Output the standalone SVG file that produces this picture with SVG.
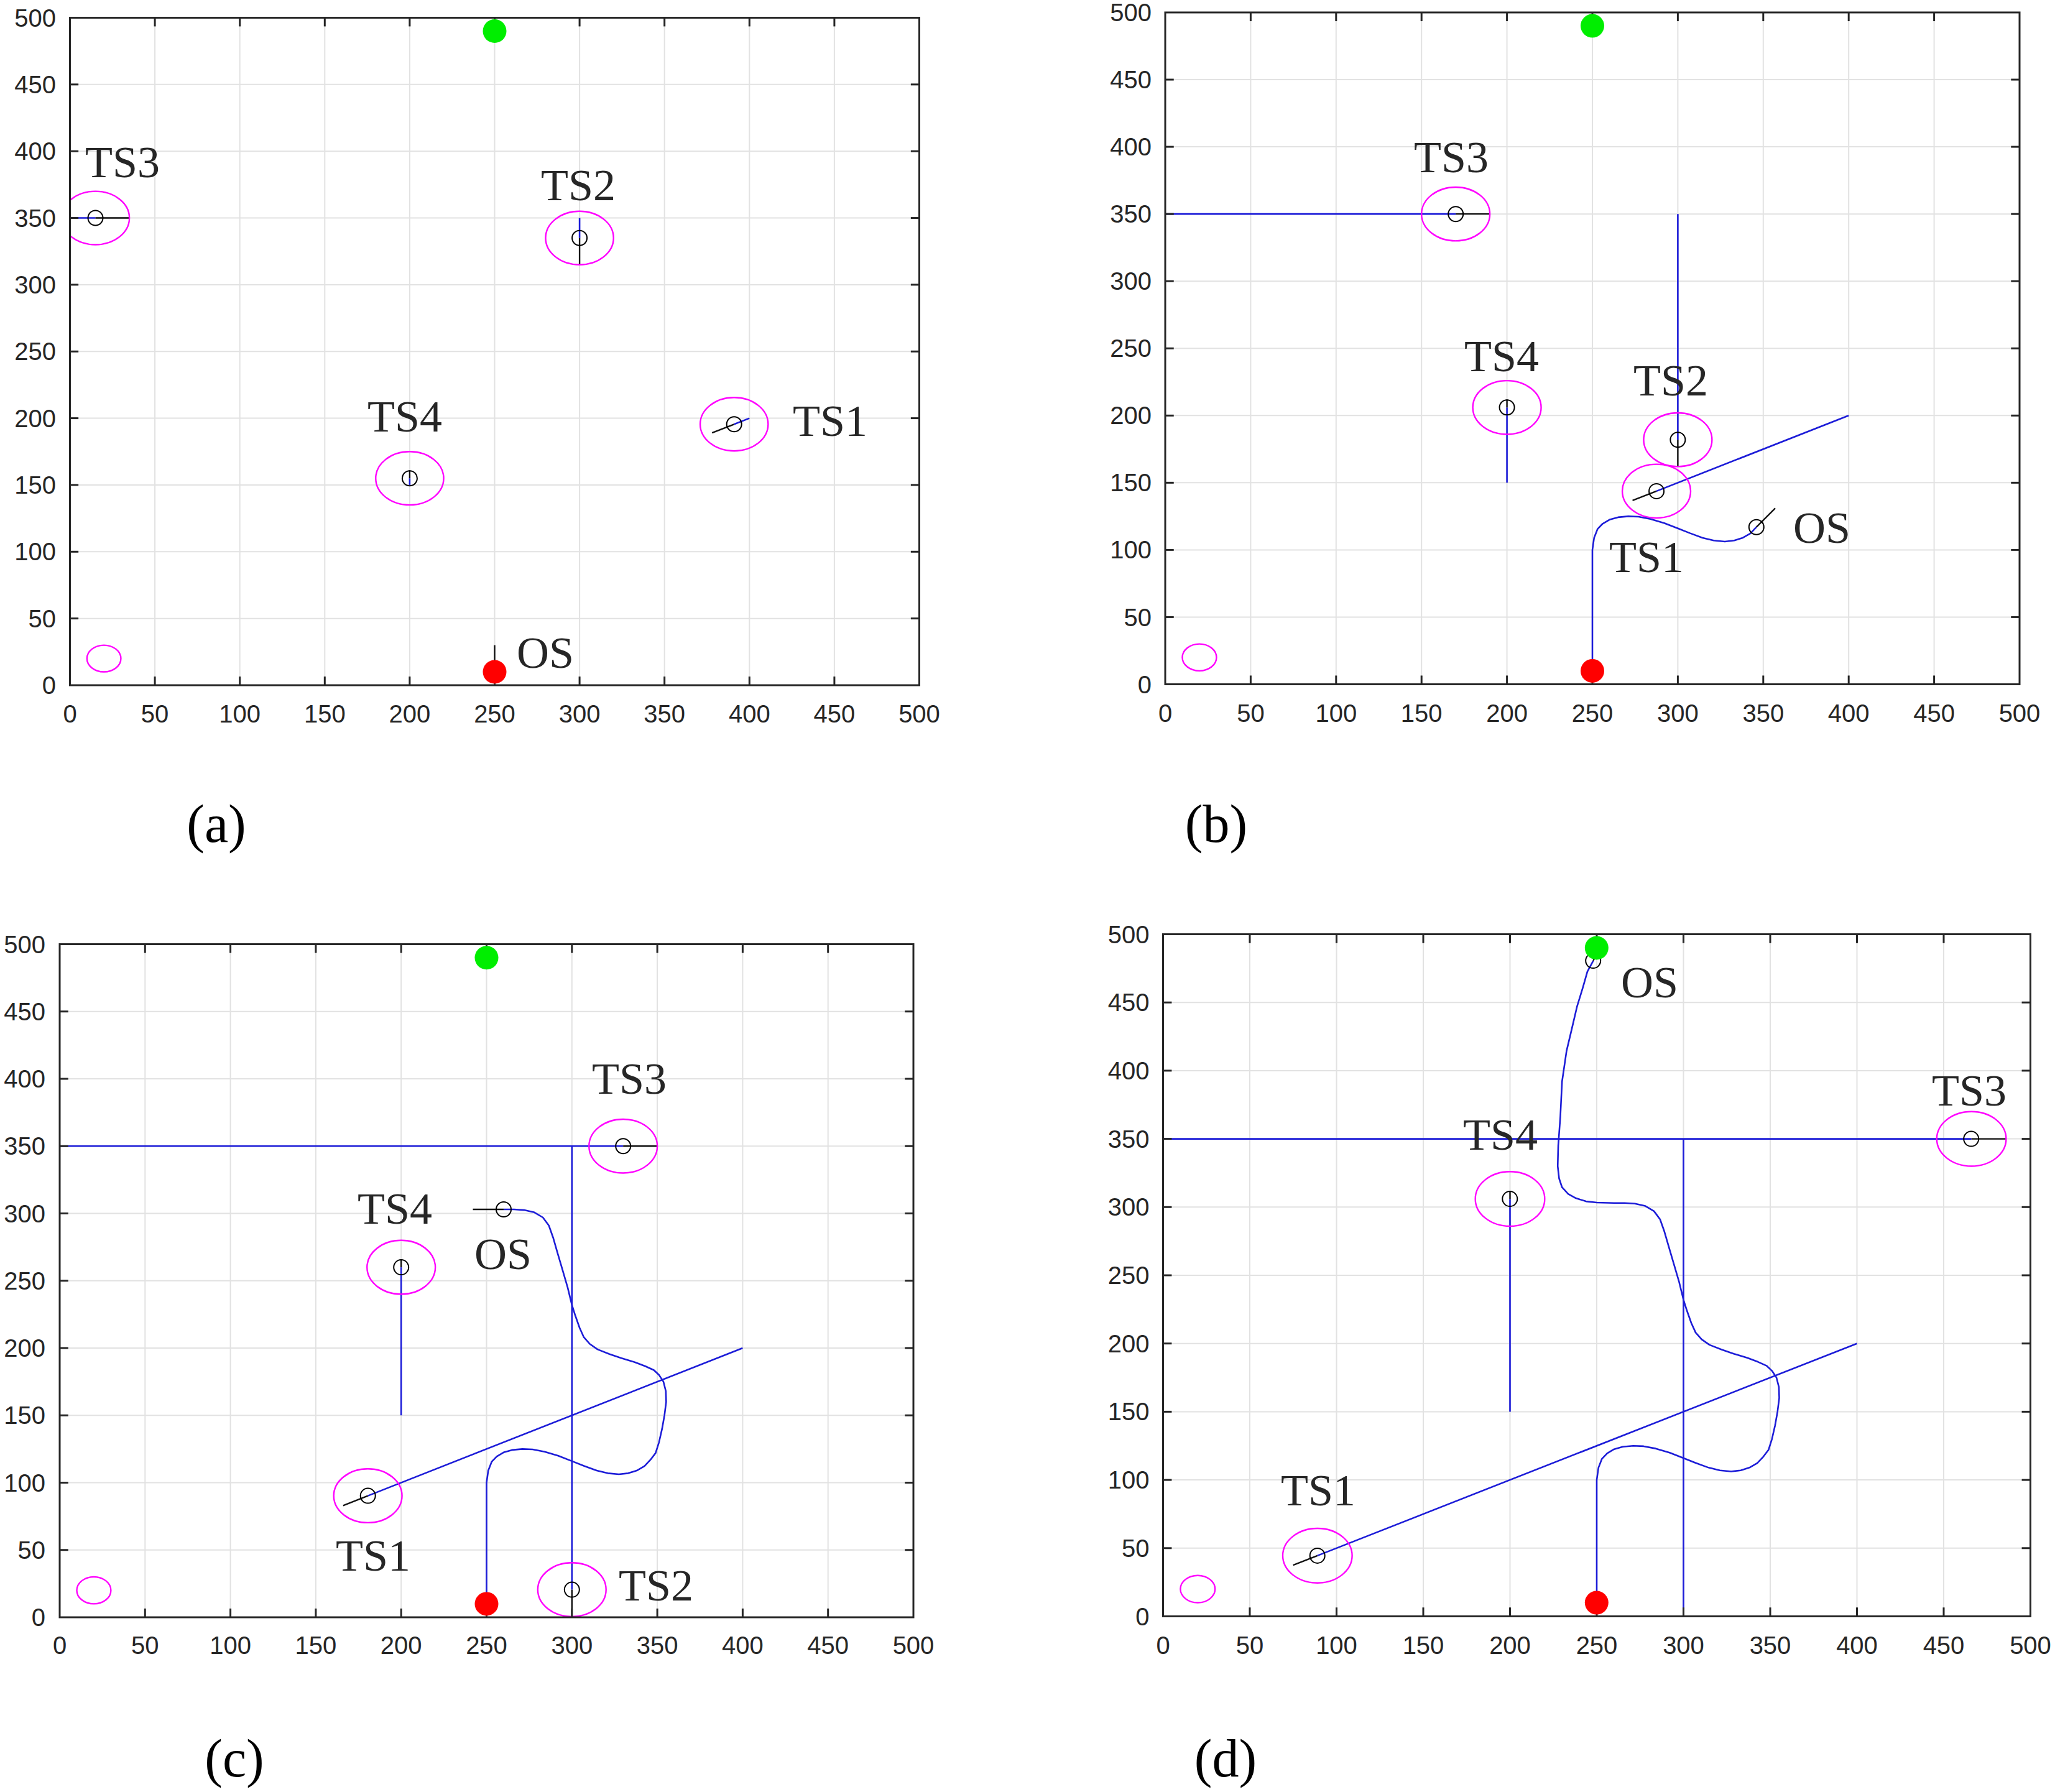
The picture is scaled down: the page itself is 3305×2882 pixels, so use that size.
<svg xmlns="http://www.w3.org/2000/svg" xmlns:xlink="http://www.w3.org/1999/xlink" width="3305" height="2882" viewBox="0 0 3305 2882">
<style>
.bg{fill:#ffffff}
.grid line{stroke:#e2e2e2;stroke-width:2;vector-effect:non-scaling-stroke}
.box{fill:none;stroke:#262626;stroke-width:3;vector-effect:non-scaling-stroke}
.tick line{stroke:#262626;stroke-width:3;vector-effect:non-scaling-stroke}
.traj{fill:none;stroke:#1c1cd8;stroke-width:2.6;stroke-linejoin:round;vector-effect:non-scaling-stroke}
.vec{fill:none;stroke:#111111;stroke-width:2.4;vector-effect:non-scaling-stroke}
.zone{fill:none;stroke:#ff00ff;stroke-width:2.4;vector-effect:non-scaling-stroke}
.mk{fill:none;stroke:#000000;stroke-width:2}
.start{fill:#ff0000}
.goal{fill:#00ee00}
.tx{font-family:"Liberation Sans",Arial,sans-serif;font-size:40px;fill:#262626;text-anchor:middle}
.ty{font-family:"Liberation Sans",Arial,sans-serif;font-size:40px;fill:#262626;text-anchor:end}
.lbl{font-family:"Liberation Serif","Times New Roman",serif;font-size:72px;fill:#262626;text-anchor:middle}
.cap{font-family:"Liberation Serif","Times New Roman",serif;font-size:86px;fill:#000000;text-anchor:middle}
</style>
<defs>
<clipPath id="clipData"><rect x="0" y="0" width="500" height="500"/></clipPath>
<g id="grid" class="grid">
<line x1="50" y1="0" x2="50" y2="500"/><line x1="100" y1="0" x2="100" y2="500"/><line x1="150" y1="0" x2="150" y2="500"/><line x1="200" y1="0" x2="200" y2="500"/><line x1="250" y1="0" x2="250" y2="500"/><line x1="300" y1="0" x2="300" y2="500"/><line x1="350" y1="0" x2="350" y2="500"/><line x1="400" y1="0" x2="400" y2="500"/><line x1="450" y1="0" x2="450" y2="500"/>
<line x1="0" y1="50" x2="500" y2="50"/><line x1="0" y1="100" x2="500" y2="100"/><line x1="0" y1="150" x2="500" y2="150"/><line x1="0" y1="200" x2="500" y2="200"/><line x1="0" y1="250" x2="500" y2="250"/><line x1="0" y1="300" x2="500" y2="300"/><line x1="0" y1="350" x2="500" y2="350"/><line x1="0" y1="400" x2="500" y2="400"/><line x1="0" y1="450" x2="500" y2="450"/>
</g>
<g id="frame">
<g class="tick">
<line x1="50" y1="0" x2="50" y2="6.5"/><line x1="100" y1="0" x2="100" y2="6.5"/><line x1="150" y1="0" x2="150" y2="6.5"/><line x1="200" y1="0" x2="200" y2="6.5"/><line x1="250" y1="0" x2="250" y2="6.5"/><line x1="300" y1="0" x2="300" y2="6.5"/><line x1="350" y1="0" x2="350" y2="6.5"/><line x1="400" y1="0" x2="400" y2="6.5"/><line x1="450" y1="0" x2="450" y2="6.5"/>
<line x1="50" y1="500" x2="50" y2="493.5"/><line x1="100" y1="500" x2="100" y2="493.5"/><line x1="150" y1="500" x2="150" y2="493.5"/><line x1="200" y1="500" x2="200" y2="493.5"/><line x1="250" y1="500" x2="250" y2="493.5"/><line x1="300" y1="500" x2="300" y2="493.5"/><line x1="350" y1="500" x2="350" y2="493.5"/><line x1="400" y1="500" x2="400" y2="493.5"/><line x1="450" y1="500" x2="450" y2="493.5"/>
<line x1="0" y1="50" x2="5" y2="50"/><line x1="0" y1="100" x2="5" y2="100"/><line x1="0" y1="150" x2="5" y2="150"/><line x1="0" y1="200" x2="5" y2="200"/><line x1="0" y1="250" x2="5" y2="250"/><line x1="0" y1="300" x2="5" y2="300"/><line x1="0" y1="350" x2="5" y2="350"/><line x1="0" y1="400" x2="5" y2="400"/><line x1="0" y1="450" x2="5" y2="450"/>
<line x1="500" y1="50" x2="495" y2="50"/><line x1="500" y1="100" x2="495" y2="100"/><line x1="500" y1="150" x2="495" y2="150"/><line x1="500" y1="200" x2="495" y2="200"/><line x1="500" y1="250" x2="495" y2="250"/><line x1="500" y1="300" x2="495" y2="300"/><line x1="500" y1="350" x2="495" y2="350"/><line x1="500" y1="400" x2="495" y2="400"/><line x1="500" y1="450" x2="495" y2="450"/>
</g>
<rect class="box" x="0" y="0" width="500" height="500"/>
</g>
</defs>
<rect class="bg" x="0" y="0" width="3305" height="2882"/>

<!-- Panel (a) -->
<g id="panel-a">
<g transform="matrix(2.732 0 0 -2.147 112.5 1102)">
<use xlink:href="#grid" href="#grid"/>
<g id="a-data" clip-path="url(#clipData)">
<circle class="zone" cx="20" cy="20" r="10"/>
<line class="traj" x1="0" y1="350" x2="15" y2="350"/>
<line class="vec" x1="15" y1="350" x2="35" y2="350"/>
<circle class="zone" cx="15" cy="350" r="20"/>
<line class="traj" x1="300" y1="350" x2="300" y2="335"/>
<line class="vec" x1="300" y1="335" x2="300" y2="315"/>
<circle class="zone" cx="300" cy="335" r="20"/>
<line class="traj" x1="400" y1="200" x2="391" y2="195.5"/>
<line class="vec" x1="391" y1="195.5" x2="378" y2="189"/>
<circle class="zone" cx="391" cy="195.5" r="20"/>
<line class="traj" x1="200" y1="150" x2="200" y2="155"/>
<line class="vec" x1="200" y1="155" x2="200" y2="161"/>
<circle class="zone" cx="200" cy="155" r="20"/>
<line class="vec" x1="250" y1="10" x2="250" y2="30"/>
</g>
<use xlink:href="#frame" href="#frame"/>
</g>
<circle class="mk" cx="153.5" cy="350.5" r="12"/>
<circle class="mk" cx="932.1" cy="382.8" r="12"/>
<circle class="mk" cx="1180.7" cy="682.3" r="12"/>
<circle class="mk" cx="658.9" cy="769.2" r="12"/>
<circle class="start" cx="795.5" cy="1080.5" r="19"/>
<circle class="goal" cx="795.5" cy="50" r="19"/>
<text class="lbl" x="197" y="285">TS3</text>
<text class="lbl" x="930" y="322">TS2</text>
<text class="lbl" x="651" y="694">TS4</text>
<text class="lbl" x="1335" y="701">TS1</text>
<text class="lbl" x="877" y="1074">OS</text>
<g id="a-xticks">
<text class="tx" x="112.5" y="1162">0</text><text class="tx" x="249.1" y="1162">50</text><text class="tx" x="385.7" y="1162">100</text><text class="tx" x="522.3" y="1162">150</text><text class="tx" x="658.9" y="1162">200</text><text class="tx" x="795.5" y="1162">250</text><text class="tx" x="932.1" y="1162">300</text><text class="tx" x="1068.7" y="1162">350</text><text class="tx" x="1205.3" y="1162">400</text><text class="tx" x="1341.9" y="1162">450</text><text class="tx" x="1478.5" y="1162">500</text>
</g>
<g id="a-yticks">
<text class="ty" x="90" y="1116">0</text><text class="ty" x="90" y="1008.7">50</text><text class="ty" x="90" y="901.3">100</text><text class="ty" x="90" y="794">150</text><text class="ty" x="90" y="686.6">200</text><text class="ty" x="90" y="579.3">250</text><text class="ty" x="90" y="471.9">300</text><text class="ty" x="90" y="364.6">350</text><text class="ty" x="90" y="257.2">400</text><text class="ty" x="90" y="149.9">450</text><text class="ty" x="90" y="42.5">500</text>
</g>
<text class="cap" x="348" y="1354">(a)</text>
</g>

<!-- Panel (b) -->
<g id="panel-b">
<g transform="matrix(2.748 0 0 -2.161 1874 1100.5)">
<use xlink:href="#grid" href="#grid"/>
<g id="b-data" clip-path="url(#clipData)">
<circle class="zone" cx="20" cy="20" r="10"/>
<line class="traj" x1="0" y1="350" x2="170" y2="350"/>
<line class="vec" x1="170" y1="350" x2="190" y2="350"/>
<circle class="zone" cx="170" cy="350" r="20"/>
<line class="traj" x1="300" y1="350" x2="300" y2="182"/>
<line class="vec" x1="300" y1="182" x2="300" y2="162"/>
<circle class="zone" cx="300" cy="182" r="20"/>
<line class="traj" x1="200" y1="150" x2="200" y2="206"/>
<line class="vec" x1="200" y1="206" x2="200" y2="212"/>
<circle class="zone" cx="200" cy="206" r="20"/>
<line class="traj" x1="400" y1="200" x2="287.5" y2="143.75"/>
<line class="vec" x1="287.5" y1="143.75" x2="273.5" y2="136.75"/>
<circle class="zone" cx="287.5" cy="143.75" r="20"/>
<polyline class="traj" points="250,10 250,100 251,109 253,115.5 256,119.5 260,122.5 265,124.3 271,125 277,124.7 284,123 292,120 300,116 307,112.5 314.5,109 321,107 327.5,106.2 333,107 338,109 342.5,112.3 346,117"/>
<line class="vec" x1="346" y1="117" x2="357" y2="131"/>
</g>
<use xlink:href="#frame" href="#frame"/>
</g>
<circle class="mk" cx="2341.2" cy="344.2" r="12"/>
<circle class="mk" cx="2698.4" cy="707.2" r="12"/>
<circle class="mk" cx="2423.6" cy="655.3" r="12"/>
<circle class="mk" cx="2664.1" cy="789.9" r="12"/>
<circle class="mk" cx="2824.8" cy="847.7" r="12"/>
<circle class="start" cx="2561" cy="1078.9" r="19"/>
<circle class="goal" cx="2561" cy="41.6" r="19"/>
<text class="lbl" x="2334" y="277">TS3</text>
<text class="lbl" x="2415" y="597">TS4</text>
<text class="lbl" x="2687" y="636">TS2</text>
<text class="lbl" x="2648" y="920">TS1</text>
<text class="lbl" x="2930" y="873">OS</text>
<g id="b-xticks">
<text class="tx" x="1874" y="1160.5">0</text><text class="tx" x="2011.4" y="1160.5">50</text><text class="tx" x="2148.8" y="1160.5">100</text><text class="tx" x="2286.2" y="1160.5">150</text><text class="tx" x="2423.6" y="1160.5">200</text><text class="tx" x="2561" y="1160.5">250</text><text class="tx" x="2698.4" y="1160.5">300</text><text class="tx" x="2835.8" y="1160.5">350</text><text class="tx" x="2973.2" y="1160.5">400</text><text class="tx" x="3110.6" y="1160.5">450</text><text class="tx" x="3248" y="1160.5">500</text>
</g>
<g id="b-yticks">
<text class="ty" x="1852" y="1114.5">0</text><text class="ty" x="1852" y="1006.5">50</text><text class="ty" x="1852" y="898.4">100</text><text class="ty" x="1852" y="790.4">150</text><text class="ty" x="1852" y="682.3">200</text><text class="ty" x="1852" y="574.3">250</text><text class="ty" x="1852" y="466.2">300</text><text class="ty" x="1852" y="358.2">350</text><text class="ty" x="1852" y="250.1">400</text><text class="ty" x="1852" y="142.1">450</text><text class="ty" x="1852" y="34">500</text>
</g>
<text class="cap" x="1956" y="1354">(b)</text>
</g>

<!-- Panel (c) -->
<g id="panel-c">
<g transform="matrix(2.746 0 0 -2.165 96 2601)">
<use xlink:href="#grid" href="#grid"/>
<g id="c-data" clip-path="url(#clipData)">
<circle class="zone" cx="20" cy="20" r="10"/>
<line class="traj" x1="0" y1="350" x2="330" y2="350"/>
<line class="vec" x1="330" y1="350" x2="350" y2="350"/>
<circle class="zone" cx="330" cy="350" r="20"/>
<line class="traj" x1="300" y1="350" x2="300" y2="20.5"/>
<line class="vec" x1="300" y1="20.5" x2="300" y2="0.5"/>
<circle class="zone" cx="300" cy="20.5" r="20"/>
<line class="traj" x1="200" y1="150" x2="200" y2="260"/>
<line class="vec" x1="200" y1="260" x2="200" y2="266"/>
<circle class="zone" cx="200" cy="260" r="20"/>
<line class="traj" x1="400" y1="200" x2="180.5" y2="90.25"/>
<line class="vec" x1="180.5" y1="90.25" x2="166" y2="83"/>
<circle class="zone" cx="180.5" cy="90.25" r="20"/>
<polyline class="traj" points="250,10 250,100 251,109 253,115.5 256,119.5 260,122.5 265,124.3 271,125 277,124.7 284,123 292,120 300,116 307,112.5 314.5,109 321,107 327.5,106.2 333,107 338,109 342.5,112.3 346,117 349,122 351,130 352.8,140 354.2,150 355.2,160 355,168 353.6,175 351,180 348,183.6 343,186.5 336.8,189.5 329,192.5 322,195.5 315,199 310.5,203 307,208 304.5,215 302,224 300,232 297.5,245 294.5,258 291.5,271 289,282 286.5,291 283,297 278,300.8 272,302.5 266,303 260,303"/>
<line class="vec" x1="260" y1="303" x2="242" y2="303"/>
</g>
<use xlink:href="#frame" href="#frame"/>
</g>
<circle class="mk" cx="1002.2" cy="1843.3" r="12"/>
<circle class="mk" cx="919.8" cy="2556.6" r="12"/>
<circle class="mk" cx="645.2" cy="2038.1" r="12"/>
<circle class="mk" cx="591.7" cy="2405.6" r="12"/>
<circle class="mk" cx="810" cy="1945" r="12"/>
<circle class="start" cx="782.5" cy="2579.4" r="19"/>
<circle class="goal" cx="782.5" cy="1540.2" r="19"/>
<text class="lbl" x="1012" y="1759">TS3</text>
<text class="lbl" x="635" y="1968">TS4</text>
<text class="lbl" x="809" y="2041">OS</text>
<text class="lbl" x="600" y="2526">TS1</text>
<text class="lbl" x="1055" y="2574">TS2</text>
<g id="c-xticks">
<text class="tx" x="96" y="2660">0</text><text class="tx" x="233.3" y="2660">50</text><text class="tx" x="370.6" y="2660">100</text><text class="tx" x="507.9" y="2660">150</text><text class="tx" x="645.2" y="2660">200</text><text class="tx" x="782.5" y="2660">250</text><text class="tx" x="919.8" y="2660">300</text><text class="tx" x="1057.1" y="2660">350</text><text class="tx" x="1194.4" y="2660">400</text><text class="tx" x="1331.7" y="2660">450</text><text class="tx" x="1469" y="2660">500</text>
</g>
<g id="c-yticks">
<text class="ty" x="73" y="2615">0</text><text class="ty" x="73" y="2506.8">50</text><text class="ty" x="73" y="2398.5">100</text><text class="ty" x="73" y="2290.3">150</text><text class="ty" x="73" y="2182">200</text><text class="ty" x="73" y="2073.8">250</text><text class="ty" x="73" y="1965.5">300</text><text class="ty" x="73" y="1857.3">350</text><text class="ty" x="73" y="1749">400</text><text class="ty" x="73" y="1640.8">450</text><text class="ty" x="73" y="1532.5">500</text>
</g>
<text class="cap" x="377" y="2857">(c)</text>
</g>

<!-- Panel (d) -->
<g id="panel-d">
<g transform="matrix(2.79 0 0 -2.194 1870.5 2599.5)">
<use xlink:href="#grid" href="#grid"/>
<g id="d-data" clip-path="url(#clipData)">
<circle class="zone" cx="20" cy="20" r="10"/>
<line class="traj" x1="0" y1="350" x2="466" y2="350"/>
<line class="vec" x1="466" y1="350" x2="486" y2="350"/>
<circle class="zone" cx="466" cy="350" r="20"/>
<line class="traj" x1="300" y1="350" x2="300" y2="-5"/>
<line class="traj" x1="200" y1="150" x2="200" y2="306"/>
<line class="vec" x1="200" y1="306" x2="200" y2="312"/>
<circle class="zone" cx="200" cy="306" r="20"/>
<line class="traj" x1="400" y1="200" x2="89" y2="44.5"/>
<line class="vec" x1="89" y1="44.5" x2="75" y2="37.5"/>
<circle class="zone" cx="89" cy="44.5" r="20"/>
<polyline class="traj" points="250,10 250,100 251,109 253,115.5 256,119.5 260,122.5 265,124.3 271,125 277,124.7 284,123 292,120 300,116 307,112.5 314.5,109 321,107 327.5,106.2 333,107 338,109 342.5,112.3 346,117 349,122 351,130 352.8,140 354.2,150 355.2,160 355,168 353.6,175 351,180 348,183.6 343,186.5 336.8,189.5 329,192.5 322,195.5 315,199 310.5,203 307,208 304.5,215 302,224 300,232 297.5,245 294.5,258 291.5,271 289,282 286.5,291 283,297 278,300.8 272,302.5 266,303 260,303 250,303.3 243.8,304.2 238,306.5 233.5,309.7 230,314.5 228.3,321 227.5,330 227.8,345 229,366 230,392 232.6,414.5 235.5,430 238.6,446.8 242,461 244.6,472.6 248,480.6"/>
<line class="vec" x1="248" y1="480.6" x2="251" y2="488"/>
</g>
<use xlink:href="#frame" href="#frame"/>
</g>
<circle class="mk" cx="3170.2" cy="1831.6" r="12"/>
<circle class="mk" cx="2428.3" cy="1928.1" r="12"/>
<circle class="mk" cx="2118.7" cy="2501.9" r="12"/>
<circle class="mk" cx="2562.2" cy="1545.1" r="12"/>
<circle class="start" cx="2567.8" cy="2577.6" r="19"/>
<circle class="goal" cx="2567.8" cy="1524.5" r="19"/>
<text class="lbl" x="2653" y="1604">OS</text>
<text class="lbl" x="2413" y="1849">TS4</text>
<text class="lbl" x="3167" y="1778">TS3</text>
<text class="lbl" x="2120" y="2421">TS1</text>
<g id="d-xticks">
<text class="tx" x="1870.5" y="2660">0</text><text class="tx" x="2010" y="2660">50</text><text class="tx" x="2149.5" y="2660">100</text><text class="tx" x="2289" y="2660">150</text><text class="tx" x="2428.5" y="2660">200</text><text class="tx" x="2568" y="2660">250</text><text class="tx" x="2707.5" y="2660">300</text><text class="tx" x="2847" y="2660">350</text><text class="tx" x="2986.5" y="2660">400</text><text class="tx" x="3126" y="2660">450</text><text class="tx" x="3265.5" y="2660">500</text>
</g>
<g id="d-yticks">
<text class="ty" x="1848.5" y="2613.5">0</text><text class="ty" x="1848.5" y="2503.8">50</text><text class="ty" x="1848.5" y="2394.1">100</text><text class="ty" x="1848.5" y="2284.4">150</text><text class="ty" x="1848.5" y="2174.7">200</text><text class="ty" x="1848.5" y="2065">250</text><text class="ty" x="1848.5" y="1955.3">300</text><text class="ty" x="1848.5" y="1845.6">350</text><text class="ty" x="1848.5" y="1735.9">400</text><text class="ty" x="1848.5" y="1626.2">450</text><text class="ty" x="1848.5" y="1516.5">500</text>
</g>
<text class="cap" x="1971" y="2857">(d)</text>
</g>
</svg>
